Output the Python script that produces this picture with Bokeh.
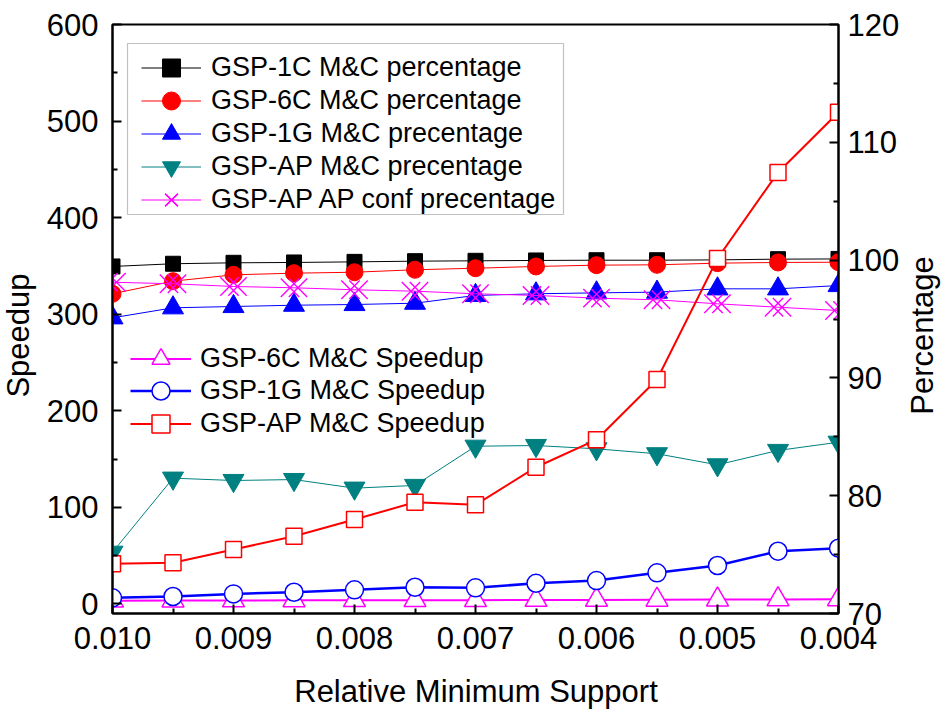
import math
from bokeh.plotting import figure
from bokeh.models import (Range1d, LinearAxis, FixedTicker, NumeralTickFormatter,
                          Legend, LegendItem, BoxAnnotation, ColumnDataSource, Label)
from bokeh.transform import dodge
from bokeh.embed import file_html
from bokeh.resources import INLINE

# ---------------- data ----------------
support = [0.010, 0.0095, 0.009, 0.0085, 0.008, 0.0075, 0.007,
           0.0065, 0.006, 0.0055, 0.005, 0.0045, 0.004]

# percentages (right axis)
pct_1c = [99.46, 99.69, 99.77, 99.80, 99.85, 99.91, 99.94,
          99.97, 99.99, 99.99, 100.02, 100.08, 100.10]
pct_6c = [97.14, 98.21, 98.75, 98.89, 98.97, 99.18, 99.31,
          99.46, 99.57, 99.60, 99.74, 99.80, 99.82]
pct_1g = [95.10, 95.95, 96.06, 96.17, 96.23, 96.34, 97.00,
          97.14, 97.22, 97.28, 97.56, 97.56, 97.84]
pct_ap = [75.20, 81.49, 81.29, 81.37, 80.64, 80.87, 84.20,
          84.26, 83.98, 83.56, 82.62, 83.84, 84.54]
pct_ap_conf = [98.12, 97.99, 97.76, 97.65, 97.48, 97.36, 97.14,
               97.00, 96.77, 96.63, 96.29, 96.00, 95.72]

# speedups (left axis)
speed_6c = [3.2, 3.4, 3.5, 3.6, 3.7, 3.8, 3.8, 4.0, 4.1, 4.2, 4.4, 4.6, 4.7]
speed_1g = [6.2, 7.6, 10.3, 12.0, 14.5, 17.2, 16.6, 21.3, 24.1, 32.1, 39.7, 54.5, 57.6]
speed_ap = [41.4, 42.5, 56.2, 70.0, 87.3, 105.2, 102.5, 141.5, 170.0, 232.3, 357.6, 446.8, 509.1]

x_ticks = [0.010, 0.009, 0.008, 0.007, 0.006, 0.005, 0.004]
x_minor = [0.0095, 0.0085, 0.0075, 0.0065, 0.0055, 0.0045]
speed_ticks = [0, 100, 200, 300, 400, 500, 600]
speed_minor = [50, 150, 250, 350, 450, 550]
pct_ticks = [70, 80, 90, 100, 110, 120]
pct_minor = [75, 85, 95, 105, 115]

src = ColumnDataSource(dict(x=support, p1c=pct_1c, p6c=pct_6c, p1g=pct_1g,
                            pap=pct_ap, pconf=pct_ap_conf,
                            s6c=speed_6c, s1g=speed_1g, sap=speed_ap))

FONT = "Liberation Sans"
FRAME_B = 613  # frame bottom in canvas pixels (for screen-unit placement)

p = figure(width=941, height=711, output_backend="svg", toolbar_location=None,
           x_range=Range1d(0.010, 0.004), y_range=Range1d(-10, 600),
           min_border_left=112, min_border_right=103,
           min_border_top=24, min_border_bottom=98)
p.extra_y_ranges = {"pct": Range1d(70, 120)}
p.xgrid.visible = False
p.ygrid.visible = False
p.outline_line_color = "black"
p.outline_line_width = 2
p.outline_line_alpha = 1
p.background_fill_color = "white"
p.border_fill_color = "white"


def style_axis(ax, tick_standoff):
    ax.axis_line_width = 2
    ax.major_tick_line_width = 2
    ax.minor_tick_line_width = 2
    ax.major_tick_in = 9
    ax.major_tick_out = 0
    ax.minor_tick_in = 5
    ax.minor_tick_out = 0
    ax.major_label_text_font = FONT
    ax.major_label_text_font_size = "31px"
    ax.major_label_text_color = "black"
    ax.major_label_standoff = tick_standoff


xa = p.xaxis[0]
xa.ticker = FixedTicker(ticks=x_ticks, minor_ticks=x_minor)
xa.formatter = NumeralTickFormatter(format="0.000")
style_axis(xa, 13)

ya = p.yaxis[0]
ya.ticker = FixedTicker(ticks=speed_ticks, minor_ticks=speed_minor)
style_axis(ya, 14)

ra = LinearAxis(y_range_name="pct",
                ticker=FixedTicker(ticks=pct_ticks, minor_ticks=pct_minor))
style_axis(ra, 9)
p.add_layout(ra, "right")

# axis titles, placed in the side panels (outside the frame)
title_kw = dict(x_units="screen", y_units="screen", text_font=FONT,
                text_font_size="31px", text_color="black",
                text_align="center", text_baseline="middle")
p.add_layout(Label(x=363.5, y=-5, text="Relative Minimum Support", **title_kw), "below")
p.add_layout(Label(x=10, y=278, text="Speedup", angle=math.pi / 2, **title_kw), "left")
p.add_layout(Label(x=20, y=278, text="Percentage", angle=math.pi / 2, **title_kw), "right")

# ---------------- percentage series ----------------
R = "pct"
l1 = p.line("x", "p1c", source=src, y_range_name=R, color="black", line_width=1)
m1 = p.scatter("x", "p1c", source=src, y_range_name=R, marker="square", size=15,
               fill_color="black", line_color="black")

l2 = p.line("x", "p6c", source=src, y_range_name=R, color="#FF0000", line_width=1)
m2 = p.scatter("x", "p6c", source=src, y_range_name=R, marker="circle", size=17,
               fill_color="#FF0000", line_color="#FF0000")

l3 = p.line("x", "p1g", source=src, y_range_name=R, color="#0000FF", line_width=1)
m3 = p.scatter("x", "p1g", source=src, y_range_name=R, marker="triangle", size=21,
               fill_color="#0000FF", line_color="#0000FF")

l4 = p.line("x", "pap", source=src, y_range_name=R, color="#008080", line_width=1)
m4 = p.scatter("x", "pap", source=src, y_range_name=R, marker="inverted_triangle", size=21,
               fill_color="#008080", line_color="#008080")

off = 4 * (0.006 / 726)
l5 = p.line("x", "pconf", source=src, y_range_name=R, color="#FF00FF", line_width=1)
m5a = p.scatter(dodge("x", -off, range=p.x_range), "pconf", source=src, y_range_name=R,
                marker="x", size=26, line_color="#FF00FF", line_width=1.4)
m5b = p.scatter(dodge("x", off, range=p.x_range), "pconf", source=src, y_range_name=R,
                marker="x", size=26, line_color="#FF00FF", line_width=1.4)

# ---------------- speedup series ----------------
l6 = p.line("x", "s6c", source=src, color="#FF00FF", line_width=2)
m6 = p.scatter("x", "s6c", source=src, marker="triangle", size=22,
               fill_color="white", line_color="#FF00FF", line_width=1.5)

l7 = p.line("x", "s1g", source=src, color="#0000FF", line_width=2.5)
m7 = p.scatter("x", "s1g", source=src, marker="circle", size=18,
               fill_color="white", line_color="#0000FF", line_width=1.5)

l8 = p.line("x", "sap", source=src, color="#FF0000", line_width=2)
m8 = p.scatter("x", "sap", source=src, marker="square", size=16,
               fill_color="white", line_color="#FF0000", line_width=1.5)

# ---------------- legends ----------------
box = BoxAnnotation(left=127 - 112, right=563 - 112, top=FRAME_B - 43, bottom=FRAME_B - 214,
                    left_units="screen", right_units="screen",
                    top_units="screen", bottom_units="screen",
                    fill_color="white", fill_alpha=1,
                    line_color="#333333", line_width=1.2, level="annotation")
p.add_layout(box)

GH = 45  # glyph box height (sets legend marker size)


def add_row(label, renderers, left, center_y, gw, standoff):
    lg = Legend(items=[LegendItem(label=label, renderers=renderers)],
                location=(left - 112, FRAME_B - center_y - GH / 2),
                padding=0, margin=0, glyph_width=gw, glyph_height=GH,
                spacing=0, label_standoff=standoff, label_height=28,
                label_text_font=FONT, label_text_font_size="27px",
                label_text_color="black", border_line_alpha=0,
                background_fill_alpha=0)
    p.add_layout(lg)


rows1 = [("GSP-1C M&C percentage", [l1, m1]),
         ("GSP-6C M&C percentage", [l2, m2]),
         ("GSP-1G M&C precentage", [l3, m3]),
         ("GSP-AP M&C precentage", [l4, m4]),
         ("GSP-AP AP conf precentage", [l5, m5a, m5b])]
for i, (lab, rs) in enumerate(rows1):
    add_row(lab, rs, 141, 67 + 33 * i, 60, 10)

rows2 = [("GSP-6C M&C Speedup", [l6, m6]),
         ("GSP-1G M&C Speedup", [l7, m7]),
         ("GSP-AP M&C Speedup", [l8, m8])]
for i, (lab, rs) in enumerate(rows2):
    add_row(lab, rs, 130, 358 + 32.5 * i, 61, 9)

open("out.html", "w").write(file_html(p, INLINE))
